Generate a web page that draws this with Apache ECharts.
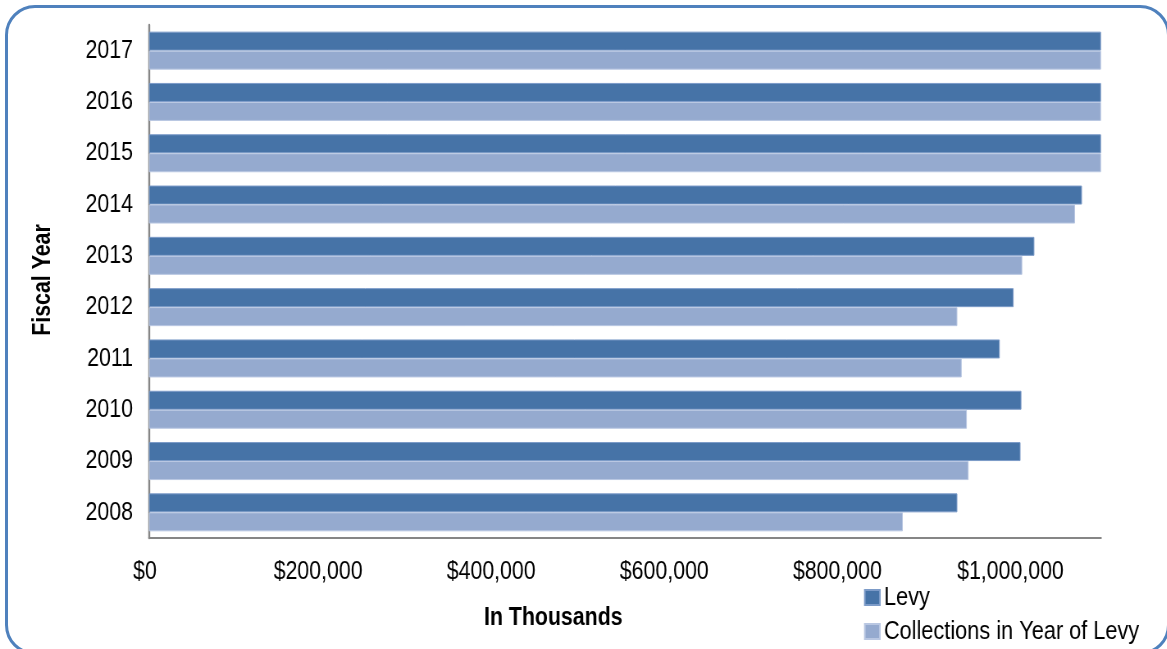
<!DOCTYPE html>
<html>
<head>
<meta charset="utf-8">
<title>Levy and Collections by Fiscal Year</title>
<script src="https://cdn.jsdelivr.net/npm/echarts@6/dist/echarts.min.js"></script>
<style>
  html, body { margin: 0; padding: 0; background: #ffffff; overflow: hidden; }
  #frame { position: relative; width: 1167px; height: 649px; overflow: hidden; }
  /* The chart is laid out wider and squeezed horizontally so that the
     regular sans face reads like a narrow typeface. */
  #chart { position: absolute; left: 0; top: 0; width: 1423px; height: 649px;
           transform: scaleX(0.82); transform-origin: 0 0; }
  #border { position: absolute; left: 5px; top: 5px; width: 1165px; height: 650px;
            box-sizing: border-box; border: 3.5px solid #4F81BD; border-radius: 30px;
            pointer-events: none; }
</style>
</head>
<body>
<div id="frame">
  <div id="chart"></div>
  <div id="border"></div>
</div>
<script>
// Fiscal years, bottom to top
const years = ['2008', '2009', '2010', '2011', '2012', '2013', '2014', '2015', '2016', '2017'];

// Amounts in thousands of dollars
const levy = [934000, 1007000, 1008000, 983000, 999000, 1023000, 1078000, 1100000, 1100000, 1100000];
const collections = [871000, 947000, 945000, 939000, 934000, 1009000, 1070000, 1100000, 1100000, 1100000];

// Value axis ticks
const axisMax = 1100000;
const tickStep = 200000;

// horizontal squeeze applied to the chart box (see CSS)
const SX = 0.82;
const px = v => v / SX;

const FONT = "'Liberation Sans', Arial, sans-serif";
const LEVY_COLOR = '#4673A7';
const COLL_COLOR = '#95AACF';

const chart = echarts.init(document.getElementById('chart'), null, { renderer: 'canvas' });

chart.setOption({
  backgroundColor: '#ffffff',
  animation: false,
  textStyle: { fontFamily: FONT },
  title: {
    text: 'In Thousands',
    left: px(484),
    top: 605,
    padding: 0,
    textStyle: { fontFamily: FONT, fontSize: 26, fontWeight: 'bold', color: '#000000' }
  },
  legend: {
    orient: 'vertical',
    left: px(864),
    top: 584,
    height: 90,
    padding: 0,
    itemWidth: px(15),
    itemHeight: 15,
    itemGap: 7,
    icon: 'rect',
    data: ['Levy', 'Collections in Year of Levy'],
    textStyle: { fontFamily: FONT, fontSize: 26.5, lineHeight: 26, color: '#000000' }
  },
  grid: { left: px(149), right: 1423 - px(1101), top: 25, bottom: 111, containLabel: false },
  xAxis: {
    type: 'value',
    min: 0,
    max: axisMax,
    interval: tickStep,
    axisLine: { show: true, lineStyle: { color: '#868686', width: 2 } },
    axisTick: { show: false },
    splitLine: { show: false },
    axisLabel: {
      showMaxLabel: false,
      margin: 21,
      fontFamily: FONT,
      fontSize: 26,
      color: '#000000',
      padding: [0, px(8), 0, 0],
      formatter: v => '$' + v.toLocaleString('en-US')
    }
  },
  yAxis: {
    type: 'category',
    data: years,
    axisLine: { show: true, lineStyle: { color: '#868686', width: 2.4 } },
    axisTick: { show: false },
    splitLine: { show: false },
    axisLabel: { margin: px(16), fontFamily: FONT, fontSize: 26, color: '#000000' }
  },
  series: [
    {
      name: 'Levy',
      type: 'bar',
      data: levy,
      barWidth: 19,
      barGap: '0%',
      itemStyle: { color: LEVY_COLOR, borderColor: '#7C9BC8', borderWidth: 1 }
    },
    {
      name: 'Collections in Year of Levy',
      type: 'bar',
      data: collections,
      barWidth: 19,
      barGap: '0%',
      itemStyle: { color: COLL_COLOR, borderColor: '#B9C7E2', borderWidth: 1 }
    }
  ],
  graphic: [
    {
      // vertical axis title, counter-scaled so it keeps the narrow look when rotated
      type: 'text',
      x: px(43),
      y: 280,
      rotation: Math.PI / 2,
      scaleX: SX,
      scaleY: 1 / SX,
      silent: true,
      style: {
        text: 'Fiscal Year',
        fontFamily: FONT,
        fontSize: 26,
        fontWeight: 'bold',
        fill: '#000000',
        align: 'center',
        verticalAlign: 'middle'
      }
    }
  ]
});
</script>
</body>
</html>
